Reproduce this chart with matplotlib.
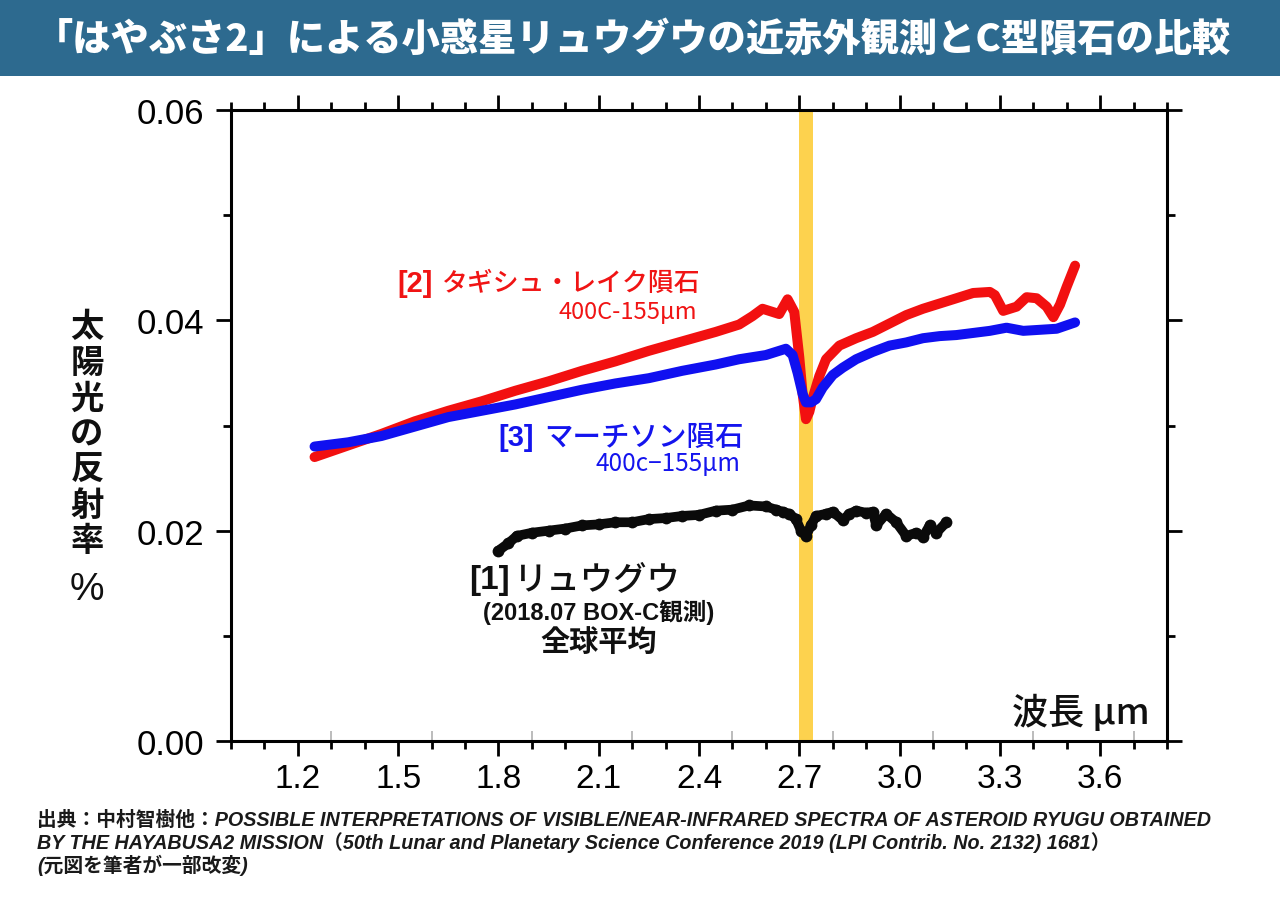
import numpy as np
import matplotlib
matplotlib.use("Agg")
import matplotlib.pyplot as plt
from matplotlib.patches import Rectangle
from matplotlib.ticker import MultipleLocator

plt.rcParams['font.family'] = ['Liberation Sans', 'Noto Sans CJK JP', 'DejaVu Sans']

# ---------------- data ----------------
title = "「はやぶさ2」による小惑星リュウグウの近赤外観測とC型隕石の比較"

x_ticks = [1.2, 1.5, 1.8, 2.1, 2.4, 2.7, 3.0, 3.3, 3.6]
x_tick_labels = ["1.2", "1.5", "1.8", "2.1", "2.4", "2.7", "3.0", "3.3", "3.6"]
y_ticks = [0.00, 0.02, 0.04, 0.06]
y_tick_labels = ["0.00", "0.02", "0.04", "0.06"]

# [2] Tagish Lake meteorite
tagish_x = [1.25, 1.35, 1.45, 1.55, 1.65, 1.75, 1.85, 1.95, 2.05, 2.15, 2.25, 2.35,
            2.45, 2.52, 2.56, 2.59, 2.62, 2.64, 2.665, 2.685, 2.70, 2.71, 2.72, 2.73,
            2.74, 2.76, 2.78, 2.82, 2.87, 2.92, 2.97, 3.02, 3.07, 3.12, 3.17, 3.22,
            3.27, 3.285, 3.31, 3.35, 3.38, 3.41, 3.44, 3.46, 3.48, 3.50, 3.525]
tagish_y = [0.0270, 0.0281, 0.0292, 0.0304, 0.0314, 0.0323, 0.0333, 0.0342, 0.0352,
            0.0361, 0.0371, 0.0380, 0.0389, 0.0396, 0.0404, 0.0411, 0.0408, 0.0406,
            0.0420, 0.0408, 0.0365, 0.0330, 0.0306, 0.0313, 0.0326, 0.0347, 0.0363,
            0.0376, 0.0383, 0.0389, 0.0397, 0.0405, 0.0411, 0.0416, 0.0421, 0.0426,
            0.0427, 0.0424, 0.0409, 0.0413, 0.0422, 0.0421, 0.0413, 0.0403, 0.0415,
            0.0432, 0.0452]

# [3] Murchison meteorite
murch_x = [1.25, 1.35, 1.45, 1.55, 1.65, 1.75, 1.85, 1.95, 2.05, 2.15, 2.25, 2.35,
           2.45, 2.52, 2.60, 2.66, 2.68, 2.695, 2.71, 2.72, 2.735, 2.75, 2.77, 2.80,
           2.83, 2.87, 2.92, 2.97, 3.02, 3.07, 3.12, 3.17, 3.22, 3.27, 3.32, 3.37,
           3.42, 3.47, 3.525]
murch_y = [0.0280, 0.0284, 0.0290, 0.0299, 0.0308, 0.0314, 0.0320, 0.0327, 0.0334,
           0.0340, 0.0345, 0.0352, 0.0358, 0.0363, 0.0367, 0.0373, 0.0367, 0.0350,
           0.0330, 0.0322, 0.0322, 0.0325, 0.0336, 0.0348, 0.0355, 0.0363, 0.0370,
           0.0376, 0.0379, 0.0383, 0.0385, 0.0386, 0.0388, 0.0390, 0.0393, 0.0390,
           0.0391, 0.0392, 0.0398]

# [1] Ryugu (global average)
ryugu_x = [1.80, 1.83, 1.855, 1.90, 1.95, 2.00, 2.05, 2.10, 2.15, 2.20, 2.25, 2.30,
           2.35, 2.40, 2.45, 2.50, 2.55, 2.60, 2.63, 2.65, 2.67, 2.69, 2.705, 2.72,
           2.735, 2.75, 2.78, 2.80, 2.83, 2.85, 2.87, 2.90, 2.92, 2.93, 2.96, 2.99,
           3.02, 3.05, 3.07, 3.09, 3.11, 3.14]
ryugu_y = [0.0181, 0.0188, 0.0195, 0.0198, 0.0200, 0.0202, 0.0205, 0.0206, 0.0208,
           0.0208, 0.0211, 0.0212, 0.0214, 0.0215, 0.0219, 0.0220, 0.0224, 0.0223,
           0.0220, 0.0218, 0.0216, 0.0211, 0.0200, 0.0195, 0.0205, 0.0214, 0.0216,
           0.0218, 0.0210, 0.0216, 0.0219, 0.0217, 0.0218, 0.0205, 0.0216, 0.0208,
           0.0195, 0.0198, 0.0194, 0.0205, 0.0198, 0.0208]

band = (2.70, 2.74)

# ---------------- figure ----------------
W, H = 1280, 904
fig = plt.figure(figsize=(W / 100, H / 100), dpi=100)
fig.patch.set_facecolor('white')

def fx(px):
    return px / W

def fy(py):
    return 1 - py / H

# title bar
fig.patches.append(Rectangle((0, fy(77)), 1, 77 / H, transform=fig.transFigure,
                             facecolor='#2D6A8F', edgecolor='none', zorder=0))
fig.text(fx(633), fy(40), title, ha='center', va='center', color='white',
         fontsize=27.5, weight='black', family=['Noto Sans CJK JP', 'DejaVu Sans'])

ax = fig.add_axes([fx(231), fy(742), 936 / W, 631 / H])
ax.set_xlim(1.0, 3.8)
ax.set_ylim(0, 0.06)

ax.axvspan(band[0], band[1], color='#FDD24E', zorder=1, lw=0)

ax.plot(tagish_x, tagish_y, color='#F21010', lw=7.2, solid_capstyle='round',
        solid_joinstyle='round', zorder=3)
ax.plot(murch_x, murch_y, color='#1010F0', lw=7.2, solid_capstyle='round',
        solid_joinstyle='round', zorder=4)
ax.plot(ryugu_x, ryugu_y, color='#0A0A0A', lw=7, marker='o', ms=8.5, mew=0,
        solid_capstyle='round', solid_joinstyle='round', zorder=4)

for s in ax.spines.values():
    s.set_linewidth(2.2)
    s.set_color('black')

ax.set_xticks(x_ticks)
ax.set_xticklabels(x_tick_labels)
ax.set_yticks(y_ticks)
ax.set_yticklabels(y_tick_labels)
ax.xaxis.set_minor_locator(MultipleLocator(0.1))
ax.yaxis.set_minor_locator(MultipleLocator(0.01))
ax.tick_params(axis='x', which='major', direction='out', length=11, width=2,
               top=True, labelsize=24, pad=5)
ax.tick_params(axis='x', which='minor', direction='out', length=6, width=2, top=True)
ax.tick_params(axis='y', which='major', direction='out', length=11, width=2,
               right=True, labelsize=25, pad=8)
ax.tick_params(axis='y', which='minor', direction='out', length=6, width=2, right=True)

sec = ax.secondary_xaxis('bottom')
sec.set_xticks([1.3, 1.6, 1.9, 2.2, 2.5, 2.8, 3.1, 3.4, 3.7])
sec.tick_params(direction='in', length=7, width=1.2, color='#b0b0b0', labelbottom=False)
sec.spines['bottom'].set_visible(False)

jp = ['Noto Sans CJK JP', 'DejaVu Sans']
lat = ['Liberation Sans', 'Noto Sans CJK JP']

# annotations
red = '#F01414'
blue = '#1414EE'
fig.text(fx(433), fy(284), '[2]', ha='right', va='center', color=red,
         fontsize=21, weight='bold', family=lat)
fig.text(fx(442), fy(284), 'タギシュ・レイク隕石', ha='left', va='center', color=red,
         fontsize=18.6, weight='medium', family=jp)
fig.text(fx(697), fy(312), '400C-155μm', ha='right', va='center', color=red,
         fontsize=17, family=jp)

fig.text(fx(534), fy(438), '[3]', ha='right', va='center', color=blue,
         fontsize=21, weight='bold', family=lat)
fig.text(fx(544), fy(438), 'マーチソン隕石', ha='left', va='center', color=blue,
         fontsize=20.5, weight='medium', family=jp)
fig.text(fx(740), fy(464), '400c−155μm', ha='right', va='center', color=blue,
         fontsize=17.5, family=jp)

fig.text(fx(510), fy(580), '[1]', ha='right', va='center', color='#101010',
         fontsize=24, weight='bold', family=lat)
fig.text(fx(514), fy(580), 'リュウグウ', ha='left', va='center', color='#101010',
         fontsize=24, weight='medium', family=jp)
fig.text(fx(599), fy(612), '(2018.07 BOX-C観測)', ha='center', va='center',
         color='#101010', fontsize=17, weight='bold', family=lat)
fig.text(fx(599), fy(642), '全球平均', ha='center', va='center', color='#101010',
         fontsize=21, weight='bold', family=jp)

# y label: stacked characters
ylab = "太陽光の反射率"
for i, ch in enumerate(ylab):
    fig.text(fx(87), fy(328 + i * 35.6), ch, ha='center', va='center',
             color='#101010', fontsize=24, weight='bold', family=jp)
fig.text(fx(87), fy(590), '%', ha='center', va='center', color='#101010',
         fontsize=28, family=lat)

# x label
fig.text(fx(1150), fy(713), '波長 μm', ha='right', va='center', color='#101010',
         fontsize=26, weight='medium', family=jp)

# footer
foot = ['出典：中村智樹他：POSSIBLE INTERPRETATIONS OF VISIBLE/NEAR-INFRARED SPECTRA OF ASTEROID RYUGU OBTAINED',
        'BY THE HAYABUSA2 MISSION（50th Lunar and Planetary Science Conference 2019 (LPI Contrib. No. 2132) 1681）',
        '(元図を筆者が一部改変)']
for i, line in enumerate(foot):
    fig.text(fx(37), fy(820 + i * 22.5), line, ha='left', va='center',
             color='#1a1a1a', fontsize=14.2, style='italic', weight='bold', family=lat)

fig.savefig('out.png', dpi=100)
